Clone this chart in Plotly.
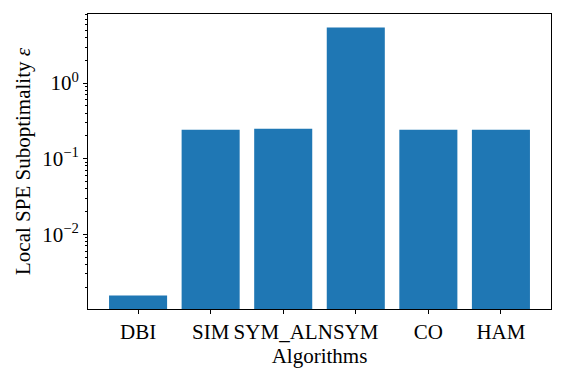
import numpy as np
import plotly.graph_objects as go

algorithms = ["DBI", "SIM", "SYM_ALN", "SYM", "CO", "HAM"]
suboptimality = [0.00155, 0.242, 0.249, 5.45, 0.242, 0.242]

major_vals = [0.01, 0.1, 1]
major_text = ["10<sup>\u22122</sup>", "10<sup>\u22121</sup>", "10<sup>0</sup>"]
minor_vals = [m * 10.0 ** e for e in range(-3, 1) for m in range(2, 10)]

fnt = "Liberation Serif"

fig = go.Figure()
fig.add_trace(go.Bar(
    x=list(range(len(algorithms))), y=suboptimality, width=0.8,
    marker=dict(color="#1f77b4", line=dict(width=0)),
))

fig.update_layout(
    width=565, height=377,
    margin=dict(l=88, r=14, t=14, b=68),
    plot_bgcolor="white", paper_bgcolor="white",
    showlegend=False,
    font=dict(family=fnt, size=21, color="black"),
)
fig.update_xaxes(
    range=[-0.69, 5.69], automargin=False, tickangle=0,
    tickvals=list(range(len(algorithms))), ticktext=algorithms,
    ticks="outside", ticklen=4, tickwidth=1, tickcolor="black",
    showline=True, linecolor="black", linewidth=1, mirror=True,
    showgrid=False, zeroline=False,
    title=dict(text="Algorithms", standoff=0, font=dict(size=21)),
)
fig.update_yaxes(
    type="log", range=[np.log10(1.026e-3), np.log10(8.2)], automargin=False,
    tickvals=major_vals, ticktext=major_text,
    ticks="outside", ticklen=4, tickwidth=1, tickcolor="black",
    minor=dict(tickvals=minor_vals, ticks="outside", ticklen=2,
               tickwidth=0.8, tickcolor="black", showgrid=False),
    showline=True, linecolor="black", linewidth=1, mirror=True,
    showgrid=False, zeroline=False,
    title=dict(text="Local SPE Suboptimality <i>\u03b5</i>", standoff=5, font=dict(size=21)),
)

# page has a default body margin, drop it so the figure sits at 0,0
fig.write_html("out.html", config={"displayModeBar": False},
               post_script="document.body.style.margin='0';")
